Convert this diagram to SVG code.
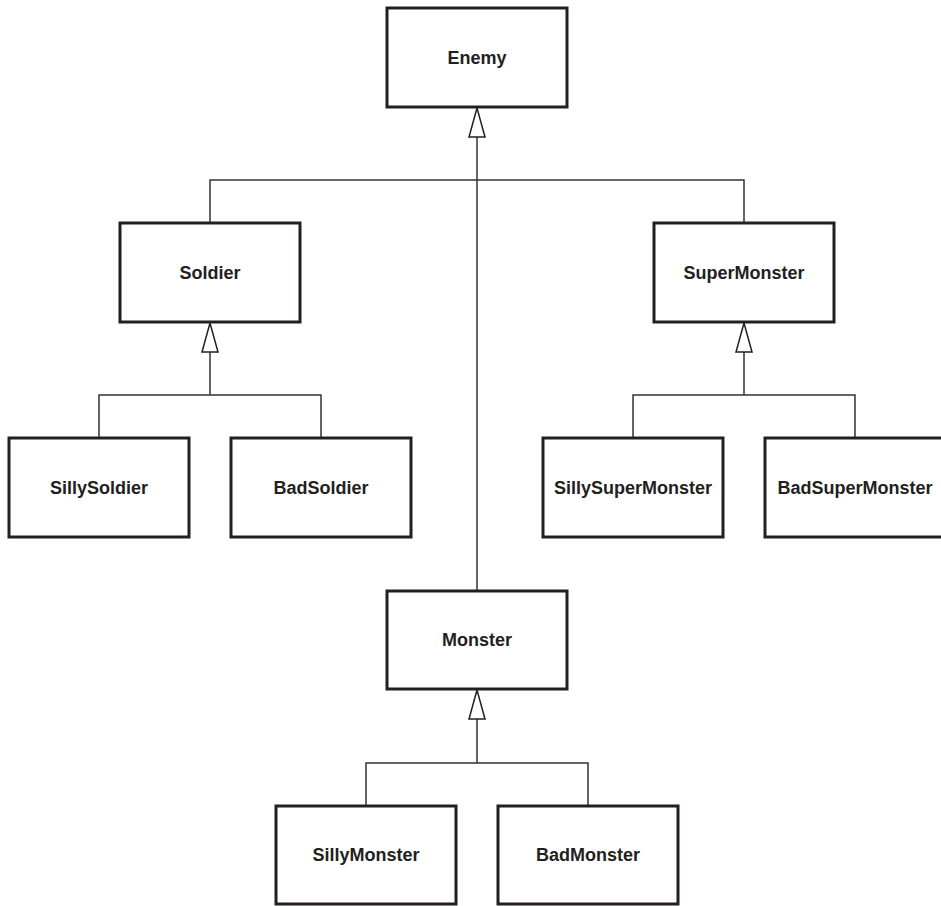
<svg xmlns="http://www.w3.org/2000/svg" width="941" height="906" viewBox="0 0 941 906">
<style>
.box{fill:#fff;stroke:#231f20;stroke-width:3}
.lbl{font-family:"Liberation Sans",Arial,sans-serif;font-weight:bold;font-size:18px;fill:#231f20;text-anchor:middle}
.ln{fill:none;stroke:#333;stroke-width:1.5}
.tri{fill:#fff;stroke:#231f20;stroke-width:1.5;stroke-linejoin:miter}
</style>
<rect width="941" height="906" fill="#fff"/>
<g id="connectors">
<path class="ln" d="M477 137V591"/>
<path class="ln" d="M210 223V180H744V223"/>
<polygon class="tri" points="477,108 469,137 485,137"/>
<path class="ln" d="M210 352V395M99 438V395H321V438"/>
<polygon class="tri" points="210,323 202,352 218,352"/>
<path class="ln" d="M744 352V395M633 438V395H855V438"/>
<polygon class="tri" points="744,323 736,352 752,352"/>
<path class="ln" d="M477 719V763M366 806V763H588V806"/>
<polygon class="tri" points="477,690 469,719 485,719"/>
</g>
<g id="Enemy"><rect class="box" x="387" y="8" width="180" height="99"/><text class="lbl" x="477" y="64">Enemy</text></g>
<g id="Soldier"><rect class="box" x="120" y="223" width="180" height="99"/><text class="lbl" x="210" y="279">Soldier</text></g>
<g id="SuperMonster"><rect class="box" x="654" y="223" width="180" height="99"/><text class="lbl" x="744" y="279">SuperMonster</text></g>
<g id="SillySoldier"><rect class="box" x="9" y="438" width="180" height="99"/><text class="lbl" x="99" y="494">SillySoldier</text></g>
<g id="BadSoldier"><rect class="box" x="231" y="438" width="180" height="99"/><text class="lbl" x="321" y="494">BadSoldier</text></g>
<g id="SillySuperMonster"><rect class="box" x="543" y="438" width="180" height="99"/><text class="lbl" x="633" y="494">SillySuperMonster</text></g>
<g id="BadSuperMonster"><rect class="box" x="765" y="438" width="180" height="99"/><text class="lbl" x="855" y="494">BadSuperMonster</text></g>
<g id="Monster"><rect class="box" x="387" y="591" width="180" height="98"/><text class="lbl" x="477" y="646">Monster</text></g>
<g id="SillyMonster"><rect class="box" x="276" y="806" width="180" height="98"/><text class="lbl" x="366" y="861">SillyMonster</text></g>
<g id="BadMonster"><rect class="box" x="498" y="806" width="180" height="98"/><text class="lbl" x="588" y="861">BadMonster</text></g>
</svg>
